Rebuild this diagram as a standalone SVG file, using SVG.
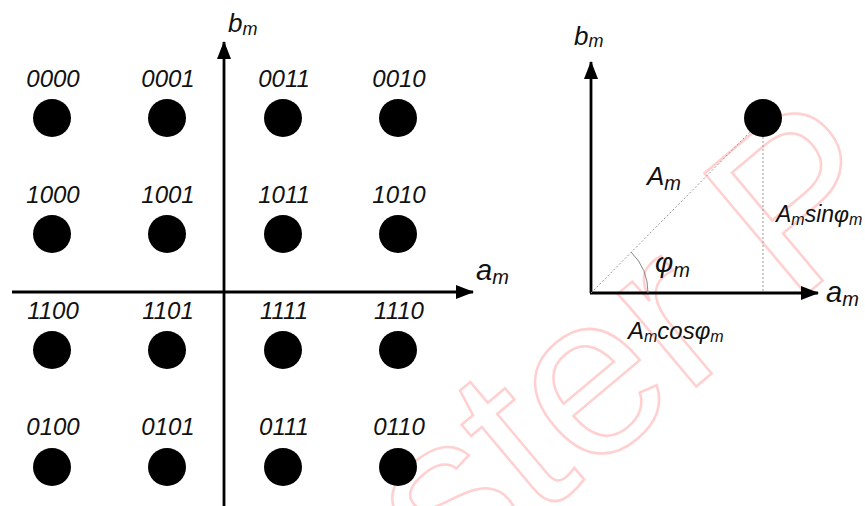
<svg xmlns="http://www.w3.org/2000/svg" width="865" height="506" viewBox="0 0 865 506">
  <style>
    .lbl { font-family: "Liberation Sans", Arial, sans-serif; font-style: italic; fill: #111; }
    .code { font-size: 24px; text-anchor: middle; }
    .axis { stroke: #000; stroke-width: 2.8; fill: none; }
    .dot { fill: #000; }
    .guide { stroke: #999; stroke-width: 1; stroke-dasharray: 2 2; fill: none; }
    .arc { stroke: #888; stroke-width: 1; fill: none; }
    .mark { font-family: "Liberation Sans", Arial, sans-serif; font-size: 230px; fill: none; stroke: #ffd0d0; stroke-width: 2.5; }
  </style>
  <defs>
    <marker id="head" viewBox="0 0 18 14" refX="17" refY="7" markerWidth="18" markerHeight="14" markerUnits="userSpaceOnUse" orient="auto">
      <path d="M0 0 L18 7 L0 14 Z" fill="#000"/>
    </marker>
  </defs>

  <rect width="865" height="506" fill="#fff"/>

  <!-- faint background stamp -->
  <text class="mark" transform="translate(449,594) rotate(-40)">ster P</text>

  <!-- axes and guide lines -->
  <g id="connectors">
    <line class="axis" x1="224" y1="506" x2="224" y2="42" marker-end="url(#head)"/>
    <line class="axis" x1="12" y1="292" x2="473" y2="292" marker-end="url(#head)"/>
    <path class="axis" d="M591 293 L591 62" marker-end="url(#head)"/>
    <path class="axis" d="M590 293 L818 293" marker-end="url(#head)"/>
    <line class="guide" x1="591" y1="293" x2="750" y2="132"/>
    <line class="guide" x1="763" y1="137" x2="763" y2="293"/>
    <path class="arc" d="M648 293 A57 57 0 0 0 631 252"/>
  </g>

  <!-- axis labels -->
  <g id="axis-labels" class="lbl">
    <text x="228" y="32" font-size="26">b<tspan font-size="18" dy="3">m</tspan></text>
    <text x="476" y="280" font-size="29">a<tspan font-size="20" dy="4">m</tspan></text>
    <text x="574" y="45" font-size="26">b<tspan font-size="18" dy="2">m</tspan></text>
    <text x="826" y="302" font-size="29">a<tspan font-size="20" dy="4">m</tspan></text>
  </g>

  <!-- 16-QAM constellation points -->
  <g id="p0000"><circle class="dot" cx="52" cy="118" r="19"/><text class="lbl code" x="53" y="87">0000</text></g>
  <g id="p0001"><circle class="dot" cx="167" cy="118" r="19"/><text class="lbl code" x="168" y="87">0001</text></g>
  <g id="p0011"><circle class="dot" cx="283" cy="118" r="19"/><text class="lbl code" x="284" y="87">0011</text></g>
  <g id="p0010"><circle class="dot" cx="398" cy="118" r="19"/><text class="lbl code" x="399" y="87">0010</text></g>

  <g id="p1000"><circle class="dot" cx="52" cy="234" r="19"/><text class="lbl code" x="53" y="203">1000</text></g>
  <g id="p1001"><circle class="dot" cx="167" cy="234" r="19"/><text class="lbl code" x="168" y="203">1001</text></g>
  <g id="p1011"><circle class="dot" cx="283" cy="234" r="19"/><text class="lbl code" x="284" y="203">1011</text></g>
  <g id="p1010"><circle class="dot" cx="398" cy="234" r="19"/><text class="lbl code" x="399" y="203">1010</text></g>

  <g id="p1100"><circle class="dot" cx="52" cy="350" r="19"/><text class="lbl code" x="53" y="319">1100</text></g>
  <g id="p1101"><circle class="dot" cx="167" cy="350" r="19"/><text class="lbl code" x="168" y="319">1101</text></g>
  <g id="p1111"><circle class="dot" cx="283" cy="350" r="19"/><text class="lbl code" x="284" y="319">1111</text></g>
  <g id="p1110"><circle class="dot" cx="398" cy="350" r="19"/><text class="lbl code" x="399" y="319">1110</text></g>

  <g id="p0100"><circle class="dot" cx="52" cy="467" r="19"/><text class="lbl code" x="53" y="435">0100</text></g>
  <g id="p0101"><circle class="dot" cx="167" cy="467" r="19"/><text class="lbl code" x="168" y="435">0101</text></g>
  <g id="p0111"><circle class="dot" cx="283" cy="467" r="19"/><text class="lbl code" x="284" y="435">0111</text></g>
  <g id="p0110"><circle class="dot" cx="398" cy="467" r="19"/><text class="lbl code" x="399" y="435">0110</text></g>

  <!-- polar representation of one symbol -->
  <g id="symbol"><circle class="dot" cx="763" cy="118" r="19"/></g>
  <g id="polar-labels" class="lbl">
    <text x="647" y="185" font-size="26">A<tspan font-size="20" dy="5">m</tspan></text>
    <text x="655" y="272" font-size="28">φ<tspan font-size="20" dy="5">m</tspan></text>
    <text x="776" y="222" font-size="23">A<tspan font-size="16" dy="3">m</tspan><tspan dy="-3">sinφ</tspan><tspan font-size="16" dy="3">m</tspan></text>
    <text x="628" y="339" font-size="24">A<tspan font-size="16" dy="3">m</tspan><tspan dy="-3">cosφ</tspan><tspan font-size="16" dy="3">m</tspan></text>
  </g>
</svg>
